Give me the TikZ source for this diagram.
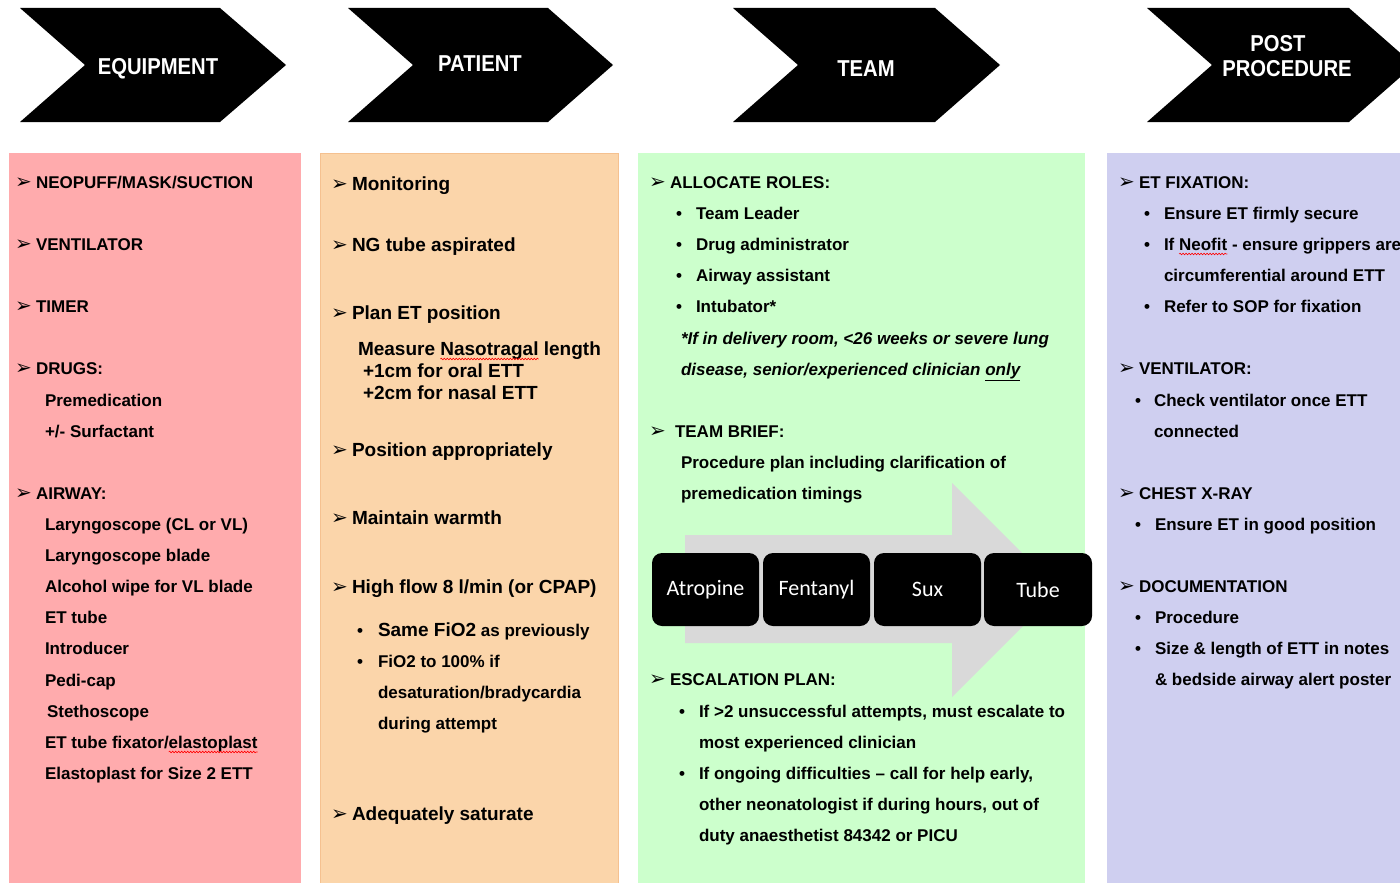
\documentclass[tikz,border=0pt]{standalone}
\usepackage{fontspec}
\setmainfont{Liberation Sans}
\newfontfamily\djvfont{DejaVu Sans}
\newfontfamily\calfont{Carlito}
\newfontfamily\chevfont[FakeStretch=0.88]{Liberation Sans}
\usetikzlibrary{decorations.pathmorphing}
\definecolor{pinkc}{HTML}{FFABAD}
\definecolor{peachc}{HTML}{FBD5AA}
\definecolor{peachb}{HTML}{F5C190}
\definecolor{greenc}{HTML}{CCFFCC}
\definecolor{lavc}{HTML}{CFCFF0}
\definecolor{grayc}{HTML}{D9D9D9}
\begin{document}
\begin{tikzpicture}[x=1pt,y=-1pt,
  every node/.style={inner sep=0pt,outer sep=0pt},
  chevtext/.style={text=white,font=\chevfont\fontsize{23}{25}\selectfont\bfseries},
  tx/.style={anchor=base west,font=\fontsize{17}{20}\selectfont\bfseries},
  txb/.style={anchor=base west,font=\fontsize{19}{22}\selectfont\bfseries},
  txi/.style={anchor=base west,font=\fontsize{17}{20}\selectfont\bfseries\itshape},
  hd/.style={anchor=base west,font=\djvfont\fontsize{20}{22}\selectfont},
  pill/.style={fill=black,rounded corners=10pt,minimum width=107pt,minimum height=73pt,text=white,font=\calfont\fontsize{22}{26}\selectfont},
  squig/.style={red,line width=0.6pt,decorate,decoration={snake,amplitude=0.8pt,segment length=3pt}}]
\useasboundingbox (0,0) rectangle (1400,883);
\clip (0,0) rectangle (1400,883);

% chevrons
\fill (20,8) -- (220,8) -- (286,65) -- (220,122) -- (20,122) -- (85,65) -- cycle;
\fill (348,8) -- (548,8) -- (613,65) -- (548,122) -- (348,122) -- (413,65) -- cycle;
\fill (733,8) -- (935,8) -- (1000,65) -- (935,122) -- (733,122) -- (798,65) -- cycle;
\fill (1147,8) -- (1349,8) -- (1414,65) -- (1349,122) -- (1147,122) -- (1212,65) -- cycle;
\node[chevtext] (c1) at (158,69) {EQUIPMENT};
\node[chevtext] (c2) at (480,64) {PATIENT};
\node[chevtext] (c3) at (866,69) {TEAM};
\node[chevtext] (c4a) at (1278,44) {POST};
\node[chevtext] (c4b) at (1287,69) {PROCEDURE};

% columns
\fill[pinkc] (9,153) rectangle (301,883);
\filldraw[fill=peachc,draw=peachb,line width=1pt] (320,153.5) rectangle (618,883);
\fill[greenc] (638,153) rectangle (1085,883);
\fill[lavc] (1107,153) rectangle (1410,883);

% EQUIPMENT
\node[hd] (e1m) at (15,188) {➢}; \node[tx] (e1) at (36,188) {NEOPUFF/MASK/SUCTION};
\node[hd] (e2m) at (15,250) {➢}; \node[tx] (e2) at (36,250) {VENTILATOR};
\node[hd] (e3m) at (15,312) {➢}; \node[tx] (e3) at (36,312) {TIMER};
\node[hd] (e4m) at (15,374) {➢}; \node[tx] (e4) at (36,374) {DRUGS:};
\node[tx] (e5) at (45,406) {Premedication};
\node[tx] (e6) at (45,437) {+/- Surfactant};
\node[hd] (e7m) at (15,499) {➢}; \node[tx] (e7) at (36,499) {AIRWAY:};
\node[tx] (e8) at (45,530) {Laryngoscope (CL or VL)};
\node[tx] (e9) at (45,561) {Laryngoscope blade};
\node[tx] (e10) at (45,592) {Alcohol wipe for VL blade};
\node[tx] (e11) at (45,623) {ET tube};
\node[tx] (e12) at (45,654) {Introducer};
\node[tx] (e13) at (45,686) {Pedi-cap};
\node[tx] (e14) at (47,717) {Stethoscope};
\node[tx] (e15) at (45,748) {ET tube fixator/};
\node[tx] (e15b) at (e15.base east) {elastoplast};
\draw[squig] ([yshift=-4pt]e15b.base west) -- ([yshift=-4pt]e15b.base east);
\node[tx] (e16) at (45,779) {Elastoplast for Size 2 ETT};

% PATIENT
\node[hd] (p1m) at (331,190) {➢}; \node[txb] (p1) at (352,190) {Monitoring};
\node[hd] (p2m) at (331,251) {➢}; \node[txb] (p2) at (352,251) {NG tube aspirated};
\node[hd] (p3m) at (331,319) {➢}; \node[txb] (p3) at (352,319) {Plan ET position};
\node[txb] (p4) at (358,355) {Measure\kern0.278em};
\node[txb] (p4b) at (p4.base east) {Nasotragal};
\node[txb] (p4c) at (p4b.base east) {\ length};
\draw[squig] ([yshift=-4pt]p4b.base west) -- ([yshift=-4pt]p4b.base east);
\node[txb] (p5) at (363,377) {+1cm for oral ETT};
\node[txb] (p6) at (363,399) {+2cm for nasal ETT};
\node[hd] (p7m) at (331,456) {➢}; \node[txb] (p7) at (352,456) {Position appropriately};
\node[hd] (p8m) at (331,524) {➢}; \node[txb] (p8) at (352,524) {Maintain warmth};
\node[hd] (p9m) at (331,593) {➢}; \node[txb] (p9) at (352,593) {High flow 8 l/min (or CPAP)};
\node[tx] (p10m) at (357,636) {•};
\node[txb] (p10) at (378,636) {Same FiO2};
\node[tx] (p10b) at (p10.base east) {\ as previously};
\node[tx] (p11m) at (357,667) {•}; \node[tx] (p11) at (378,667) {FiO2 to 100\% if};
\node[tx] (p12) at (378,698) {desaturation/bradycardia};
\node[tx] (p13) at (378,729) {during attempt};
\node[hd] (p14m) at (331,820) {➢}; \node[txb] (p14) at (352,820) {Adequately saturate};

% TEAM
\node[hd] (t1m) at (649,188) {➢}; \node[tx] (t1) at (670,188) {ALLOCATE ROLES:};
\node[tx] (t2m) at (676,219) {•}; \node[tx] (t2) at (696,219) {Team Leader};
\node[tx] (t3m) at (676,250) {•}; \node[tx] (t3) at (696,250) {Drug administrator};
\node[tx] (t4m) at (676,281) {•}; \node[tx] (t4) at (696,281) {Airway assistant};
\node[tx] (t5m) at (676,312) {•}; \node[tx] (t5) at (696,312) {Intubator*};
\node[txi] (t6) at (681,344) {*If in delivery room, <26 weeks or severe lung};
\node[txi] (t7) at (681,375) {disease, senior/experienced clinician \underline{only}};
\node[hd] (t8m) at (649,437) {➢}; \node[tx] (t8) at (675,437) {TEAM BRIEF:};
\node[tx] (t9) at (681,468) {Procedure plan including clarification of};
\node[tx] (t10) at (681,499) {premedication timings};

% timeline arrow
\fill[grayc] (685,535) -- (952,535) -- (952,483) -- (1059,590) -- (952,697) -- (952,643) -- (685,643) -- cycle;
\node[pill] (atro) at (705.5,589.5) {Atropine};
\node[pill] (fent) at (816.5,589.5) {Fentanyl};
\node[pill] (sux) at (927.5,589.5) {Sux};
\node[pill,minimum width=108pt] (tube) at (1038,589.5) {Tube};

\node[hd] (t11m) at (649,685) {➢}; \node[tx] (t11) at (670,685) {ESCALATION PLAN:};
\node[tx] (t12m) at (679,717) {•}; \node[tx] (t12) at (699,717) {If >2 unsuccessful attempts, must escalate to};
\node[tx] (t13) at (699,748) {most experienced clinician};
\node[tx] (t14m) at (679,779) {•}; \node[tx] (t14) at (699,779) {If ongoing difficulties -- call for help early,};
\node[tx] (t15) at (699,810) {other neonatologist if during hours, out of};
\node[tx] (t16) at (699,841) {duty anaesthetist 84342 or PICU};

% POST PROCEDURE
\node[hd] (q1m) at (1118,188) {➢}; \node[tx] (q1) at (1139,188) {ET FIXATION:};
\node[tx] (q2m) at (1144,219) {•}; \node[tx] (q2) at (1164,219) {Ensure ET firmly secure};
\node[tx] (q3m) at (1144,250) {•}; \node[tx] (q3) at (1164,250) {If\kern0.278em};
\node[tx] (q3b) at (q3.base east) {Neofit};
\node[tx] (q3c) at (q3b.base east) {\ - ensure grippers are};
\draw[squig] ([yshift=-4pt]q3b.base west) -- ([yshift=-4pt]q3b.base east);
\node[tx] (q4) at (1164,281) {circumferential around ETT};
\node[tx] (q5m) at (1144,312) {•}; \node[tx] (q5) at (1164,312) {Refer to SOP for fixation};
\node[hd] (q6m) at (1118,374) {➢}; \node[tx] (q6) at (1139,374) {VENTILATOR:};
\node[tx] (q7m) at (1135,406) {•}; \node[tx] (q7) at (1154,406) {Check ventilator once ETT};
\node[tx] (q8) at (1154,437) {connected};
\node[hd] (q9m) at (1118,499) {➢}; \node[tx] (q9) at (1139,499) {CHEST X-RAY};
\node[tx] (q10m) at (1135,530) {•}; \node[tx] (q10) at (1155,530) {Ensure ET in good position};
\node[hd] (q11m) at (1118,592) {➢}; \node[tx] (q11) at (1139,592) {DOCUMENTATION};
\node[tx] (q12m) at (1135,623) {•}; \node[tx] (q12) at (1155,623) {Procedure};
\node[tx] (q13m) at (1135,654) {•}; \node[tx] (q13) at (1155,654) {Size \& length of ETT in notes};
\node[tx] (q14) at (1155,685) {\& bedside airway alert poster};
\end{tikzpicture}
\end{document}
